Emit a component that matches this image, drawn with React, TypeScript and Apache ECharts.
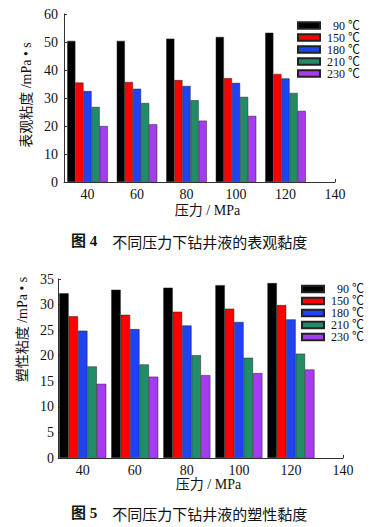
import React, { useEffect, useRef } from "react";
import * as echarts from "echarts";

const pressures = [40, 60, 80, 100, 120];
const xTickLabels = [40, 60, 80, 100, 120, 140];
const temps = ["90 ℃", "150 ℃", "180 ℃", "210 ℃", "230 ℃"];
const colors = ["#000000", "#ff0000", "#1f42f2", "#228c68", "#a63cf0"];

const apparent90 = [50.4, 50.4, 51.2, 51.8, 53.3];
const apparent150 = [35.5, 35.7, 36.4, 37.1, 38.6];
const apparent180 = [32.5, 33.3, 34.3, 35.4, 37.0];
const apparent210 = [26.8, 28.2, 29.2, 30.4, 31.8];
const apparent230 = [20.0, 20.6, 21.9, 23.6, 25.4];

const plastic90 = [32.2, 32.9, 33.3, 33.8, 34.2];
const plastic150 = [27.7, 28.0, 28.6, 29.2, 29.9];
const plastic180 = [24.9, 25.2, 25.9, 26.6, 27.1];
const plastic210 = [17.9, 18.3, 20.1, 19.6, 20.4];
const plastic230 = [14.5, 15.9, 16.2, 16.6, 17.3];

const apparentSeries = [apparent90, apparent150, apparent180, apparent210, apparent230];
const plasticSeries = [plastic90, plastic150, plastic180, plastic210, plastic230];

const SERIF = "'Liberation Serif', 'Noto Sans CJK SC', serif";

export default function App() {
  const ref = useRef<HTMLDivElement>(null);
  useEffect(() => {
    if (!ref.current) return;
    const chart = echarts.init(ref.current, null, { renderer: "svg" });

    const mkX = (gridIndex: number, nameGap: number, fontSize: number) => ({
      type: "value",
      gridIndex,
      min: 30.5,
      max: 140,
      name: "压力 / MPa",
      nameLocation: "middle",
      nameGap,
      nameTextStyle: { fontFamily: SERIF, fontSize: 14, color: "#111", padding: [0, 0, 0, 16] },
      axisLine: { show: true, onZero: false, lineStyle: { color: "#333", width: 1 } },
      axisTick: { show: true, inside: true, length: 3, customValues: [140], lineStyle: { color: "#333" } },
      axisLabel: { customValues: xTickLabels, fontFamily: SERIF, fontSize, color: "#111", margin: 5 },
      splitLine: { show: false },
    });

    const mkY = (gridIndex: number, max: number, interval: number, name: string, margin: number, padding: number[]) => ({
      type: "value",
      gridIndex,
      min: 0,
      max,
      interval,
      name,
      nameLocation: "middle",
      nameGap: 21,
      nameRotate: 90,
      nameTextStyle: { fontFamily: SERIF, fontSize: 14, color: "#111", padding },
      axisLine: { show: true, lineStyle: { color: "#333", width: 1 } },
      axisTick: { show: true, inside: true, length: 3, lineStyle: { color: "#333" } },
      axisLabel: { fontFamily: SERIF, fontSize: 14, color: "#111", margin },
      splitLine: { show: false },
    });

    const mkSeries = (vals: number[][], idx: number, barWidth: number) =>
      vals.map((arr, i) => ({
        type: "bar",
        name: temps[i],
        xAxisIndex: idx,
        yAxisIndex: idx,
        barWidth,
        barGap: "0%",
        data: arr.map((v, j) => [pressures[j], v]),
        itemStyle: { color: colors[i], borderColor: "#222", borderWidth: 0.5 },
      }));

    const mkLegend = (left: number, top: number) => ({
      left,
      top,
      padding: 0,
      orient: "vertical",
      icon: "rect",
      itemWidth: 22,
      itemHeight: 6.5,
      itemGap: 0,
      data: temps,
      formatter: (n: string) => "{a|" + n + "}",
      textStyle: {
        fontFamily: SERIF,
        fontSize: 12,
        color: "#111",
        lineHeight: 12,
        rich: { a: { width: 35, align: "right", fontFamily: SERIF, fontSize: 12, lineHeight: 12, color: "#111" } },
      },
    });

    const captionRich = {
      b: { fontFamily: SERIF, fontWeight: "bold", fontSize: 15, color: "#111" },
      s: { width: 15 },
      n: { fontFamily: "'Noto Sans CJK SC', serif", fontWeight: "normal", fontSize: 15, color: "#111" },
    };

    chart.setOption({
      animation: false,
      backgroundColor: "#ffffff",
      title: [
        { left: 71, top: 232, padding: 0, text: "{b|图 4}{s|}{n|不同压力下钻井液的表观黏度}", textStyle: { fontWeight: "normal", rich: captionRich } },
        { left: 71, top: 504, padding: 0, text: "{b|图 5}{s|}{n|不同压力下钻井液的塑性黏度}", textStyle: { fontWeight: "normal", rich: captionRich } },
      ],
      legend: [mkLegend(297, 19.5), mkLegend(301, 283)],
      grid: [
        { left: 64, top: 14, right: 46, bottom: 345 },
        { left: 58, top: 279, right: 38, bottom: 69 },
      ],
      xAxis: [mkX(0, 21, 14), mkX(1, 16, 14)],
      yAxis: [
        mkY(0, 60, 10, "表观粘度 /mPa • s", 6, [0, 0, 0, 6]),
        mkY(1, 35, 5, "塑性粘度 /mPa • s", 4, [0, 0, 0, 78]),
      ],
      series: [...mkSeries(apparentSeries, 0, 8.1), ...mkSeries(plasticSeries, 1, 9.4)],
    });
    return () => chart.dispose();
  }, []);
  return <div ref={ref} style={{ position: "absolute", left: 0, top: 0, width: 381, height: 527 }} />;
}
